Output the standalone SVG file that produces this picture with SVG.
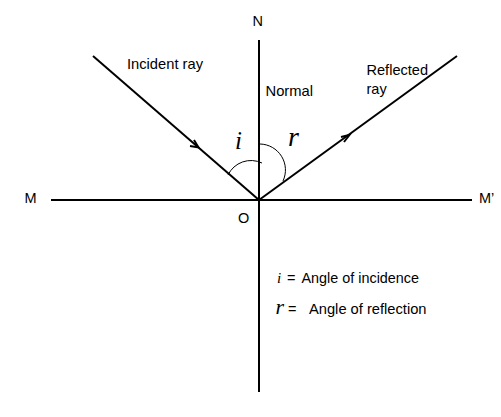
<svg xmlns="http://www.w3.org/2000/svg" width="501" height="417" viewBox="0 0 501 417">
<style>
.ln{stroke:#000;stroke-width:2;fill:none}
.arc{stroke:#000;stroke-width:1;fill:none}
.ah{stroke:#000;stroke-width:2;fill:none;stroke-linejoin:miter}
.t{font-family:"Liberation Sans",Arial,sans-serif;font-size:14.5px;fill:#000}
.m{font-family:"Liberation Serif","Times New Roman",serif;font-style:italic;fill:#000}
</style>
<rect width="501" height="417" fill="#fff"/>
<g id="connectors">
<line class="ln" x1="259" y1="40" x2="259" y2="392"/>
<line class="ln" x1="51" y1="200" x2="472" y2="200"/>
<line class="ln" x1="93" y1="56" x2="259" y2="200"/>
<line class="ln" x1="259" y1="200" x2="457" y2="56"/>
<path class="ah" d="M190,146 L198.5,147.5 L194,140"/>
<path class="ah" d="M341,137 L349.5,135 L344,142"/>
<path class="arc" d="M228,175 A25.5,25.5 0 0 1 262,163"/>
<path class="arc" d="M260,144 A26,26 0 0 1 283,181"/>
</g>
<g id="labels">
<text class="t" x="252.5" y="26">N</text>
<text class="t" x="127" y="69" textLength="76" lengthAdjust="spacingAndGlyphs">Incident ray</text>
<text class="t" x="265.5" y="96" textLength="47.5" lengthAdjust="spacingAndGlyphs">Normal</text>
<text class="t" x="366.5" y="75" textLength="61.5" lengthAdjust="spacingAndGlyphs">Reflected</text>
<text class="t" x="366.5" y="94">ray</text>
<text class="t" x="24.5" y="203">M</text>
<text class="t" x="479" y="203">M’</text>
<text class="t" x="238" y="223">O</text>
<text class="m" x="235" y="149" font-size="25">i</text>
<text class="m" x="288" y="146" font-size="28">r</text>
<text class="m" x="277" y="283" font-size="15">i</text>
<text class="t" x="287" y="283">=</text>
<text class="t" x="301.5" y="283" textLength="117.5" lengthAdjust="spacingAndGlyphs">Angle of incidence</text>
<text class="m" x="275.5" y="314" font-size="22">r</text>
<text class="t" x="288" y="314">=</text>
<text class="t" x="309" y="314" textLength="117.5" lengthAdjust="spacingAndGlyphs">Angle of reflection</text>
</g>
</svg>
